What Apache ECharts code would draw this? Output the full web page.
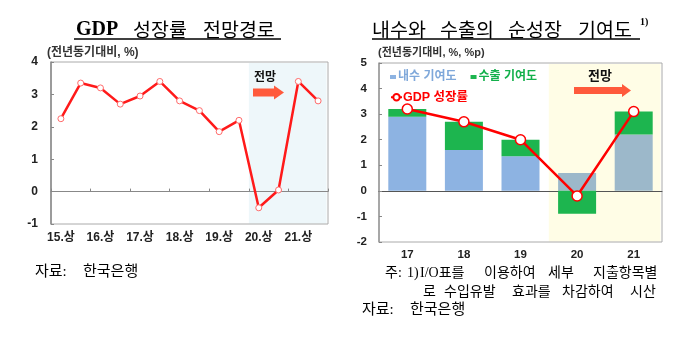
<!DOCTYPE html>
<html>
<head>
<meta charset="utf-8">
<script src="https://cdn.jsdelivr.net/npm/echarts@6/dist/echarts.min.js"></script>
<style>
html, body { margin: 0; padding: 0; background: #fff; }
#main { width: 687px; height: 352px; }
</style>
</head>
<body>
<div id="main"></div>
<script>
// 왼쪽: GDP 성장률 (반기)
var halfYears = ['15.상','15.하','16.상','16.하','17.상','17.하','18.상','18.하','19.상','19.하','20.상','20.하','21.상','21.하'];
var gdpHalf = [2.25, 3.35, 3.2, 2.7, 2.95, 3.4, 2.8, 2.5, 1.85, 2.2, -0.5, 0.05, 3.4, 2.8];
var leftTicks = [-1, 0, 1, 2, 3, 4];
var leftForecastFrom = '20.상';

// 오른쪽: 내수/수출 기여도 (연간)
var years = ['17', '18', '19', '20', '21'];
var domestic = [2.9, 1.6, 1.35, 0.7, 2.2];
var exportsC = [0.3, 1.1, 0.65, -0.9, 0.9];
var gdpYear = [3.2, 2.7, 2.0, -0.2, 3.1];
var rightTicks = [-2, -1, 0, 1, 2, 3, 4, 5];
var rightForecastFrom = '20';

var KR = '"Liberation Sans", "Noto Sans CJK KR", sans-serif';
var NOTE = '"Liberation Serif", "Noto Sans CJK KR", serif';
var forecastIdx = years.indexOf(rightForecastFrom);

var gridL = { left: 51, top: 62, width: 277, height: 162 };
var gridR = { left: 379, top: 63, width: 283, height: 179 };

// 0선 위치 (축 상단에서의 거리)
function zeroOffset(g, ticks) {
    var mn = ticks[0], mx = ticks[ticks.length - 1];
    return -g.height * mx / (mx - mn);
}

var myChart = echarts.init(document.getElementById('main'));

var domesticData = domestic.map(function (v, i) {
    return i >= forecastIdx ? { value: v, itemStyle: { color: '#9cb8ca' } } : v;
});

var option = {
    animation: false,
    grid: [
        echarts.util.extend({ show: true, borderColor: '#aaa', borderWidth: 1 }, gridL),
        echarts.util.extend({ show: true, borderColor: '#aaa', borderWidth: 1 }, gridR)
    ],
    xAxis: [{
        gridIndex: 0,
        type: 'category',
        position: 'bottom',
        data: halfYears,
        axisLine: { show: false, onZero: false },
        axisTick: { show: false },
        axisLabel: { interval: 1, margin: 8, color: '#222', fontWeight: 'bold', fontSize: 12, fontFamily: KR }
    }, {
        gridIndex: 1,
        type: 'category',
        position: 'bottom',
        data: years,
        axisLine: { show: false, onZero: false },
        axisTick: { show: false },
        axisLabel: { margin: 7, color: '#222', fontWeight: 'bold', fontSize: 11.5, fontFamily: KR }
    }, {
        // 왼쪽 0선 + 눈금
        gridIndex: 0,
        type: 'category',
        position: 'top',
        offset: zeroOffset(gridL, leftTicks),
        data: halfYears,
        axisLine: { show: true, onZero: false, lineStyle: { color: '#888', width: 1 } },
        axisTick: { show: true, inside: false, interval: 1, length: 3, lineStyle: { color: '#888' } },
        axisLabel: { show: false }
    }, {
        // 오른쪽 0선
        gridIndex: 1,
        type: 'category',
        position: 'top',
        offset: zeroOffset(gridR, rightTicks),
        data: years,
        axisLine: { show: true, onZero: false, lineStyle: { color: '#555', width: 1 } },
        axisTick: { show: false },
        axisLabel: { show: false }
    }],
    yAxis: [{
        gridIndex: 0,
        type: 'value',
        min: leftTicks[0],
        max: leftTicks[leftTicks.length - 1],
        interval: 1,
        splitLine: { show: false },
        axisLine: { show: true, lineStyle: { color: '#888', width: 1.5 } },
        axisTick: { show: true, inside: true, length: 3, lineStyle: { color: '#888' } },
        axisLabel: { margin: 13, color: '#222', fontWeight: 'bold', fontSize: 12, fontFamily: KR }
    }, {
        gridIndex: 1,
        type: 'value',
        min: rightTicks[0],
        max: rightTicks[rightTicks.length - 1],
        interval: 1,
        splitLine: { show: false },
        axisLine: { show: true, lineStyle: { color: '#999', width: 1.5 } },
        axisTick: { show: true, inside: true, length: 3, lineStyle: { color: '#888' } },
        axisLabel: { margin: 12, color: '#222', fontWeight: 'bold', fontSize: 11.5, fontFamily: KR }
    }],
    legend: [{
        left: 385, top: 66,
        itemWidth: 6, itemHeight: 4, itemGap: 14,
        textStyle: { fontSize: 12, fontWeight: 'bold', fontFamily: KR, padding: [0, 0, 0, -3] },
        data: [
            { name: '내수 기여도', icon: 'rect', textStyle: { color: '#7fa8da' } },
            { name: '수출 기여도', icon: 'rect', textStyle: { color: '#13b04b' } }
        ]
    }, {
        left: 385, top: 86,
        itemWidth: 11, itemHeight: 8,
        textStyle: { fontSize: 12.5, fontWeight: 'bold', fontFamily: KR, color: '#ff0000', padding: [0, 0, 0, -4] },
        data: [{ name: 'GDP 성장률' }]
    }],
    series: [{
        name: 'GDP(반기)',
        type: 'line',
        xAxisIndex: 0, yAxisIndex: 0,
        data: gdpHalf,
        z: 5,
        symbol: 'circle',
        symbolSize: 6,
        lineStyle: { color: '#ff1a1a', width: 2.5 },
        itemStyle: { color: '#fff', borderColor: '#ff6b6b', borderWidth: 1 }
    }, {
        name: '내수 기여도',
        type: 'bar',
        xAxisIndex: 1, yAxisIndex: 1,
        stack: 'c',
        barWidth: 38,
        data: domesticData,
        itemStyle: { color: '#8db3e2' }
    }, {
        name: '수출 기여도',
        type: 'bar',
        xAxisIndex: 1, yAxisIndex: 1,
        stack: 'c',
        barWidth: 38,
        data: exportsC,
        itemStyle: { color: '#1db54f' }
    }, {
        name: 'GDP 성장률',
        type: 'line',
        xAxisIndex: 1, yAxisIndex: 1,
        data: gdpYear,
        z: 5,
        symbol: 'circle',
        symbolSize: 10,
        lineStyle: { color: '#ff0000', width: 2.5 },
        itemStyle: { color: '#fff', borderColor: '#ff0000', borderWidth: 1.5 }
    }]
};

myChart.setOption(option);

// 전망 구간 음영: 축 스케일에서 범주 경계를 구함
function forecastBand(xIdx, yIdx, cats, from, ticks, color) {
    var c0 = myChart.convertToPixel({ xAxisIndex: xIdx }, cats[cats.indexOf(from)]);
    var c1 = myChart.convertToPixel({ xAxisIndex: xIdx }, cats[cats.length - 1]);
    var bw = myChart.convertToPixel({ xAxisIndex: xIdx }, cats[1]) - myChart.convertToPixel({ xAxisIndex: xIdx }, cats[0]);
    var yTop = myChart.convertToPixel({ yAxisIndex: yIdx }, ticks[ticks.length - 1]);
    var yBot = myChart.convertToPixel({ yAxisIndex: yIdx }, ticks[0]);
    var x0 = c0 - bw / 2;
    return {
        type: 'rect', z: -10, silent: true,
        shape: { x: x0, y: yTop + 1, width: c1 + bw / 2 - x0 - 1.5, height: yBot - yTop - 1.5 },
        style: { fill: color }
    };
}

function arrow(x0, x1, tip, yc, bh, hh) {
    return {
        type: 'polygon', z: 10,
        shape: { points: [[x0, yc - bh / 2], [x1, yc - bh / 2], [x1, yc - hh / 2], [tip, yc], [x1, yc + hh / 2], [x1, yc + bh / 2], [x0, yc + bh / 2]] },
        style: { fill: '#ff5a3c' }
    };
}

function txt(s, x, y, font, color) {
    return { type: 'text', x: x, y: y, z: 10, style: { text: s, font: font, fill: color || '#000', verticalAlign: 'middle' } };
}

var titleKR = '19.5px "Noto Sans CJK KR", sans-serif';
var noteF = '14px ' + NOTE;
var srcF = '15px ' + NOTE;

var elements = [
    forecastBand(0, 0, halfYears, leftForecastFrom, leftTicks, '#eef7fa'),
    forecastBand(1, 1, years, rightForecastFrom, rightTicks, '#fffde6'),
    // 제목
    txt('GDP', 76, 30, 'bold 20px "Liberation Serif", serif'),
    txt('성장률', 133, 30, titleKR),
    txt('전망경로', 203, 30, titleKR),
    { type: 'line', z: 10, shape: { x1: 74, y1: 39, x2: 281, y2: 39 }, style: { stroke: '#000', lineWidth: 1.5 } },
    txt('내수와', 372, 30, titleKR),
    txt('수출의', 440, 30, titleKR),
    txt('순성장', 508, 30, titleKR),
    txt('기여도', 578, 30, titleKR),
    txt('1)', 640, 22, 'bold 10px "Liberation Serif", serif'),
    { type: 'line', z: 10, shape: { x1: 372, y1: 39, x2: 640, y2: 39 }, style: { stroke: '#000', lineWidth: 1.5 } },
    // 단위
    txt('(전년동기대비, %)', 47, 53, 'bold 12px ' + KR, '#333'),
    txt('(전년동기대비, %, %p)', 378, 53, 'bold 11px ' + KR, '#333'),
    // 전망 표시
    txt('전망', 254, 76, 'bold 12px "Noto Sans CJK KR", sans-serif', '#111'),
    arrow(253, 274, 284, 92.5, 8, 14),
    txt('전망', 588, 75, 'bold 13px "Noto Sans CJK KR", sans-serif', '#111'),
    arrow(574, 622, 631, 90.5, 7, 13),
    // 주, 자료
    txt('자료:', 35, 272, srcF),
    txt('한국은행', 83, 272, srcF),
    txt('주:', 385, 273.5, noteF),
    txt('1)', 407, 273.5, noteF),
    txt('I/O표를', 420, 273.5, noteF),
    txt('이용하여', 484, 273.5, noteF),
    txt('세부', 548, 273.5, noteF),
    txt('지출항목별', 593, 273.5, noteF),
    txt('로', 423, 292, noteF),
    txt('수입유발', 444, 292, noteF),
    txt('효과를', 512, 292, noteF),
    txt('차감하여', 562, 292, noteF),
    txt('시산', 630, 292, noteF),
    txt('자료:', 362, 310.5, srcF),
    txt('한국은행', 410, 310.5, srcF)
];

myChart.setOption({ graphic: elements });
</script>
</body>
</html>
